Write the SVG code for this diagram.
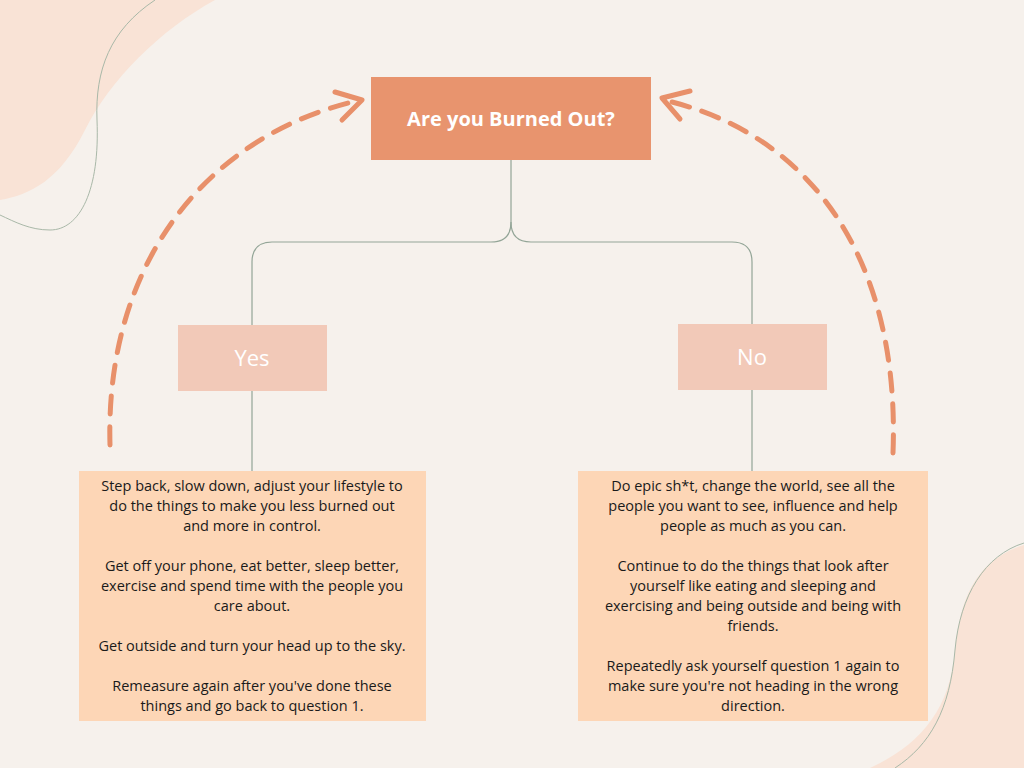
<svg xmlns="http://www.w3.org/2000/svg" width="1024" height="768" viewBox="0 0 1024 768">
<style>
.t{font-family:"Open Sans","Liberation Sans",sans-serif;font-size:14.5px;fill:#1a1a1a;text-anchor:middle}
.c{fill:none;stroke:#93a597;stroke-width:1.2}
.d{fill:none;stroke:#e8906a;stroke-width:5;stroke-dasharray:18 13;stroke-linecap:round}
.a{fill:none;stroke:#e8906a;stroke-width:5;stroke-linecap:round;stroke-linejoin:round}
</style>
<rect width="1024" height="768" fill="#f6f1ec"/>
<path d="M0,0 H215 C160,30 110,80 85,130 C60,180 30,195 0,200 Z" fill="#f9e3d6"/>
<path d="M155,0 C110,30 95,70 97,120 C100,190 80,230 50,230 C30,230 15,222 0,215" fill="none" stroke="#a9b8a8" stroke-width="1"/>
<path d="M1024,545 C975,560 960,600 955,650 C950,710 920,745 870,768 H1024 Z" fill="#f9e3d6"/>
<path d="M1024,543 C985,555 960,595 955,650 C950,710 930,745 895,768" fill="none" stroke="#a9b8a8" stroke-width="1"/>
<g id="connectors">
<path class="c" d="M511,160 V222 Q511,242 491,242 H272 Q252,242 252,262 V325"/>
<path class="c" d="M511,222 Q511,242 531,242 H732 Q752,242 752,262 V324"/>
<path class="c" d="M252,391 V471"/>
<path class="c" d="M752,390 V471"/>
<path class="d" d="M110,445 C105,270 200,140 352,102"/>
<path class="a" d="M335,92 L362,100 L342,120"/>
<path class="d" d="M893,453 C900,270 820,140 672,102"/>
<path class="a" d="M690,91 L662,98 L680,119"/>
</g>
<g id="title"><rect x="371" y="77" width="280" height="83" fill="#e8946e"/>
<text x="511" y="126" style="font-family:'Open Sans','Liberation Sans',sans-serif;font-weight:bold;font-size:20px;fill:#fff;text-anchor:middle">Are you Burned Out?</text></g>
<g id="yes"><rect x="178" y="325" width="149" height="66" fill="#f2c9b8"/>
<text x="252" y="366" style="font-family:'Open Sans','Liberation Sans',sans-serif;font-size:22px;fill:#fff;text-anchor:middle">Yes</text></g>
<g id="no"><rect x="678" y="324" width="149" height="66" fill="#f2c9b8"/>
<text x="752" y="365" style="font-family:'Open Sans','Liberation Sans',sans-serif;font-size:22px;fill:#fff;text-anchor:middle">No</text></g>
<g id="yes-text"><rect x="79" y="471" width="347" height="250" fill="#fdd6b6"/>
<text class="t" x="252" y="491">Step back, slow down, adjust your lifestyle to</text>
<text class="t" x="252" y="511">do the things to make you less burned out</text>
<text class="t" x="252" y="531">and more in control.</text>
<text class="t" x="252" y="571">Get off your phone, eat better, sleep better,</text>
<text class="t" x="252" y="591">exercise and spend time with the people you</text>
<text class="t" x="252" y="611">care about.</text>
<text class="t" x="252" y="651">Get outside and turn your head up to the sky.</text>
<text class="t" x="252" y="691">Remeasure again after you've done these</text>
<text class="t" x="252" y="711">things and go back to question 1.</text></g>
<g id="no-text"><rect x="578" y="471" width="350" height="250" fill="#fdd6b6"/>
<text class="t" x="753" y="491">Do epic sh*t, change the world, see all the</text>
<text class="t" x="753" y="511">people you want to see, influence and help</text>
<text class="t" x="753" y="531">people as much as you can.</text>
<text class="t" x="753" y="571">Continue to do the things that look after</text>
<text class="t" x="753" y="591">yourself like eating and sleeping and</text>
<text class="t" x="753" y="611">exercising and being outside and being with</text>
<text class="t" x="753" y="631">friends.</text>
<text class="t" x="753" y="671">Repeatedly ask yourself question 1 again to</text>
<text class="t" x="753" y="691">make sure you're not heading in the wrong</text>
<text class="t" x="753" y="711">direction.</text></g>
</svg>
